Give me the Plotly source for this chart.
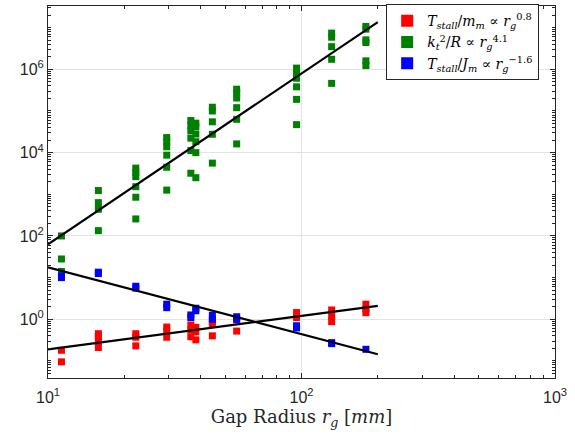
import plotly.graph_objects as go

# Gap radii (mm) of each measured column
radii = [11.3, 15.8, 22.2, 29.4, 36.6, 38.3, 44.5, 55.5, 95.6, 131.5, 179.5]

# T_stall / m_m  (red)
red_vals = [
    [0.18, 0.095],
    [0.45, 0.38, 0.29, 0.21],
    [0.45, 0.37, 0.23],
    [0.65, 0.52, 0.37],
    [0.73, 0.55, 0.38],
    [0.64, 0.50, 0.32],
    [0.88, 0.77, 0.40],
    [0.96, 0.52],
    [1.45, 1.1],
    [1.67, 1.2, 0.88],
    [2.3, 1.74, 1.44],
]

# k_t^2 / R  (green)
green_vals = [
    [100, 28, 14],
    [1230, 630, 437, 134],
    [4250, 3300, 2650, 1520, 850, 256],
    [23000, 18300, 13800, 8700, 4450, 1260],
    [59000, 44000, 33500, 22300, 11200, 3200],
    [51000, 42000, 28000, 18300, 10000, 2500],
    [123000, 100000, 55000, 27600, 5600],
    [333000, 267000, 205000, 120000, 63000, 16200],
    [1.07e6, 8.3e5, 6.1e5, 3.8e5, 1.9e5, 47000],
    [7.4e6, 5.9e6, 3.5e6, 1.74e6, 4.6e5],
    [1.07e7, 9.2e6, 5.1e6, 4.4e6, 1.6e6, 1.23e6],
]

# T_stall / J_m  (blue)
blue_vals = [
    [10, 11],
    [12.5, 13.5],
    [6.2, 5.6],
    [2.3, 1.9],
    [1.27, 1.1],
    [1.84, 1.6],
    [1.25, 1.0],
    [1.15, 1.0],
    [0.7, 0.62],
    [0.275, 0.26],
    [0.19],
]

# Power-law fit lines (endpoints)
fit_x = [10, 200]
red_fit = [0.19, 2.09]
green_fit = [63, 1.36e7]
blue_fit = [17.7, 0.145]

# Tick labels
x_tick_vals = [10, 100, 1000]
x_tick_text = ["10<sup>1</sup>", "10<sup>2</sup>", "10<sup>3</sup>"]
y_tick_vals = [1, 100, 1e4, 1e6]
y_tick_text = ["10<sup>0</sup>", "10<sup>2</sup>", "10<sup>4</sup>", "10<sup>6</sup>"]

legend_names = [
    "<i>T</i><sub><i>stall</i></sub>/<i>m</i><sub><i>m</i></sub> ∝ <i>r</i><sub><i>g</i></sub><sup>0.8</sup>",
    "<i>k</i><sub><i>t</i></sub><sup>2</sup>/<i>R</i> ∝ <i>r</i><sub><i>g</i></sub><sup>4.1</sup>",
    "<i>T</i><sub><i>stall</i></sub>/<i>J</i><sub><i>m</i></sub> ∝ <i>r</i><sub><i>g</i></sub><sup>−1.6</sup>",
]


def flatten(vals):
    xs, ys = [], []
    for r, col in zip(radii, vals):
        for v in col:
            xs.append(r)
            ys.append(v)
    return xs, ys


def minor_ticks(lo_exp, hi_exp):
    out = []
    for e in range(lo_exp, hi_exp + 1):
        for d in range(1, 10):
            out.append(d * 10.0 ** e)
    return out


fig = go.Figure()
series = [(red_vals, "#ff0000"), (green_vals, "#008000"), (blue_vals, "#0000ff")]
for (vals, color), name in zip(series, legend_names):
    xs, ys = flatten(vals)
    fig.add_trace(go.Scatter(
        x=xs, y=ys, mode="markers", name=name,
        marker=dict(symbol="square", size=7, color=color, line=dict(width=0)),
    ))

for fy in (green_fit, blue_fit, red_fit):
    fig.add_trace(go.Scatter(
        x=fit_x, y=fy, mode="lines", showlegend=False,
        line=dict(color="black", width=2.2),
    ))

axis_common = dict(
    type="log", automargin=False,
    showline=True, linecolor="#262626", linewidth=1,
    mirror="allticks", ticks="inside", ticklen=5, tickcolor="#262626",
    showgrid=True, gridcolor="#e3e3e3", gridwidth=1,
    zeroline=False,
    tickfont=dict(family="Liberation Sans, Arial, sans-serif", size=16, color="#262626"),
)

fig.update_xaxes(
    **axis_common, range=[1, 3],
    tickmode="array", tickvals=x_tick_vals, ticktext=x_tick_text,
    ticklabelstandoff=5,
    minor=dict(ticks="inside", ticklen=3, tickcolor="#262626", showgrid=False,
               tickmode="array", tickvals=minor_ticks(1, 2)),
    title=dict(text="Gap Radius <i>r</i><sub><i>g</i></sub> [<i>mm</i>]",
               font=dict(family="DejaVu Serif, serif", size=18, color="#262626"),
               standoff=5),
)
fig.update_yaxes(
    **axis_common, range=[-1.41, 7.52],
    tickmode="array", tickvals=y_tick_vals, ticktext=y_tick_text,
    minor=dict(ticks="inside", ticklen=3, tickcolor="#262626", showgrid=False,
               tickmode="array", tickvals=minor_ticks(-2, 7)),
)

fig.update_layout(
    width=575, height=435,
    margin=dict(l=48, r=20, t=6, b=57, autoexpand=False),
    paper_bgcolor="white", plot_bgcolor="white",
    showlegend=True,
    legend=dict(
        x=0.667, y=1.005, xanchor="left", yanchor="top",
        bgcolor="white", bordercolor="#262626", borderwidth=1,
        font=dict(family="DejaVu Serif, serif", size=14, color="black"),
        tracegroupgap=0, itemsizing="constant",
    ),
)

fig.write_html("out.html", config={"displayModeBar": False},
               post_script="document.body.style.margin='0';")
